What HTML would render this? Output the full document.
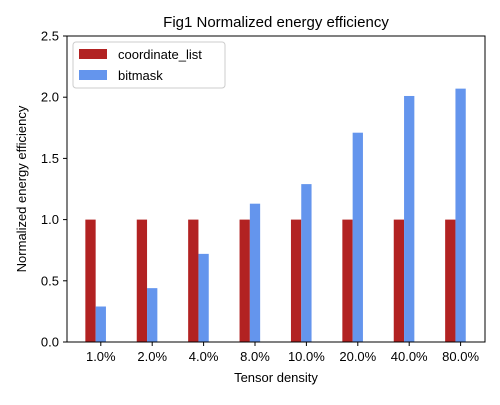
<!DOCTYPE html>
<html><head><meta charset="utf-8"><style>
body{margin:0;background:#fff}
svg{font-family:"Liberation Sans","DejaVu Sans",sans-serif}
</style></head><body>
<svg id="chart" width="500" height="400">
<text x="276" y="27" text-anchor="middle" font-size="15">Fig1 Normalized energy efficiency</text>
<g id="bars"></g>
<g id="axes"></g>
<rect x="67" y="36" width="418" height="306" fill="none" stroke="#000" stroke-width="1"/>
<text x="276" y="382" text-anchor="middle" font-size="13">Tensor density</text>
<text transform="translate(26,189) rotate(-90)" text-anchor="middle" font-size="13">Normalized energy efficiency</text>
<g>
<rect x="73" y="42" width="152" height="46" fill="#fff" stroke="#ccc" rx="3"/>
<rect x="79" y="49" width="28" height="10" fill="#b22222"/>
<text x="118" y="59" font-size="13">coordinate_list</text>
<rect x="79" y="70" width="28" height="10" fill="#6495ed"/>
<text x="118" y="80" font-size="13">bitmask</text>
</g>
</svg>
<script>
const categories=["1.0%","2.0%","4.0%","8.0%","10.0%","20.0%","40.0%","80.0%"];
const coordinateList=[1,1,1,1,1,1,1,1];
const bitmask=[0.29,0.44,0.72,1.13,1.29,1.71,2.01,2.07];
const yTicks=[0,0.5,1.0,1.5,2.0,2.5];
const NS="http://www.w3.org/2000/svg";
const x0=90.5,step=51.4,bw=10.3;
function xs(i){return x0+step*i;}
function ys(v){return 342-v*122.4;}
const bars=document.getElementById('bars'),axes=document.getElementById('axes');
function rect(cx,v,fill,name){
 const r=document.createElementNS(NS,'rect');
 r.setAttribute('x',cx-bw/2);r.setAttribute('y',ys(v));
 r.setAttribute('width',bw);r.setAttribute('height',ys(0)-ys(v));
 r.setAttribute('fill',fill);
 
 
 bars.appendChild(r);
}
categories.forEach((c,i)=>{
 rect(xs(i),coordinateList[i],'#b22222','bar-coordinate-list-'+i);
 rect(xs(i)+bw,bitmask[i],'#6495ed','bar-bitmask-'+i);
 const tx=xs(i)+bw;
 const l=document.createElementNS(NS,'line');
 l.setAttribute('x1',tx);l.setAttribute('x2',tx);l.setAttribute('y1',342);l.setAttribute('y2',346);l.setAttribute('stroke','#000');
 
 
 axes.appendChild(l);
 const t=document.createElementNS(NS,'text');
 t.setAttribute('x',tx);t.setAttribute('y',361);t.setAttribute('text-anchor','middle');t.setAttribute('font-size','13');
 t.textContent=c;
 
 
 axes.appendChild(t);
});
yTicks.forEach(v=>{
 const l=document.createElementNS(NS,'line');
 l.setAttribute('x1',63);l.setAttribute('x2',67);l.setAttribute('y1',ys(v));l.setAttribute('y2',ys(v));l.setAttribute('stroke','#000');
 
 
 axes.appendChild(l);
 const t=document.createElementNS(NS,'text');
 t.setAttribute('x',59);t.setAttribute('y',ys(v)+4.5);t.setAttribute('text-anchor','end');t.setAttribute('font-size','13');
 t.textContent=v.toFixed(1);
 
 
 axes.appendChild(t);
});
</script>
</body></html>
